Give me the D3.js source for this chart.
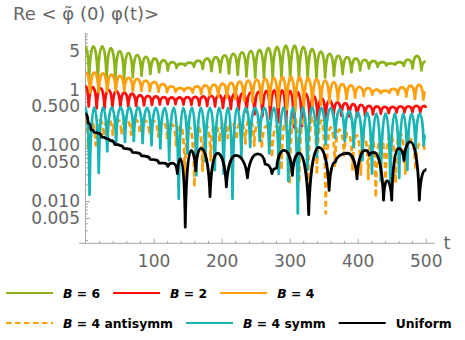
<!DOCTYPE html>
<html>
<head>
<meta charset="utf-8">
<script src="https://cdn.jsdelivr.net/npm/d3@7"></script>
<style>
body { margin: 0; background: #fff; }
svg { display: block; }
.axis text { font-family: "DejaVu Sans"; font-size: 17px; fill: #666; }
.axis line, .axis path { stroke: #a6a6a6; }
.legend text { font-family: "DejaVu Sans"; font-weight: bold; font-size: 12.4px; fill: #000; }
</style>
</head>
<body>
<svg width="465" height="340"></svg>
<script>
// series: [t, value] at the turning points
const b6 = [[0,5.8],[5.3,1.45],[11.7,5.95],[18.1,1.45],[24.6,5.95],[31,1.5],[37.4,5.5],[43.8,1.5],[50.3,4.9],[56.7,1.55],
  [63.1,4.5],[69.5,1.65],[76,4.15],[82.4,1.78],[88.8,3.85],[95.2,1.9],[101.7,3.6],[108.1,2.05],[114.5,3.35],[120.9,2.2],
  [127.4,3.1],[133.8,2.45],[140.2,2.9],[146.6,2.7],[153.1,3.05],[159.5,2.55],[165.9,3.3],[172.3,2.35],[178.8,3.6],[185.2,2.15],
  [191.6,3.8],[198,2.05],[204.5,4.1],[210.9,1.95],[217.3,4.35],[223.7,1.85],[230.2,4.65],[236.6,1.72],[243,4.9],[249.4,1.65],
  [255.9,5.15],[262.3,1.6],[268.7,5.5],[275.1,1.55],[281.6,5.8],[288,1.5],[294.4,6.1],[300.8,1.48],[307.3,6.1],[313.7,1.48],
  [320.1,5.8],[326.5,1.5],[333,5.35],[339.4,1.55],[345.8,4.8],[352.2,1.65],[358.7,4.35],[365.1,1.78],[371.5,4],[377.9,1.9],
  [384.4,3.8],[390.8,2.05],[397.2,3.6],[403.6,2.2],[410.1,3.4],[416.5,2.4],[422.9,3.25],[429.3,2.55],[435.8,3.1],[442.2,2.7],
  [448.6,2.95],[455,2.8],[461.5,3.1],[467.9,2.65],[474.3,3.45],[480.7,2.4],[487.2,4],[493.6,2.2],[500,3.2]];

const b2 = [[0,1.15],[4.8,0.5],[10.6,1.1],[16.4,0.46],[22.2,1.05],[28,0.46],[33.8,0.99],[39.6,0.47],[45.4,0.94],[51.2,0.48],
  [57,0.88],[62.8,0.5],[68.6,0.84],[74.4,0.51],[80.2,0.79],[86,0.52],[91.8,0.77],[97.6,0.53],[103.4,0.75],[109.2,0.54],
  [115,0.73],[120.8,0.55],[126.6,0.72],[132.4,0.55],[138.2,0.72],[144,0.54],[149.8,0.73],[155.6,0.53],[161.4,0.74],[167.2,0.52],
  [173,0.75],[178.8,0.51],[184.6,0.77],[190.4,0.5],[196.2,0.79],[202,0.47],[207.8,0.81],[213.6,0.45],[219.4,0.84],[225.2,0.43],
  [231,0.86],[236.8,0.4],[242.6,0.88],[248.4,0.36],[254.2,0.91],[260,0.33],[265.8,0.95],[271.6,0.3],[277.4,0.97],[283.2,0.26],
  [289,0.97],[294.8,0.23],[300.6,0.95],[306.4,0.21],[312.2,0.9],[318,0.22],[323.8,0.84],[329.6,0.25],[335.4,0.77],[341.2,0.28],
  [347,0.7],[352.8,0.31],[358.6,0.64],[364.4,0.33],[370.2,0.59],[376,0.34],[381.8,0.57],[387.6,0.33],[393.4,0.55],[399.2,0.33],
  [405,0.53],[410.8,0.34],[416.6,0.51],[422.4,0.36],[428.2,0.5],[434,0.37],[439.8,0.49],[445.6,0.38],[451.4,0.49],[457.2,0.39],
  [463,0.5],[468.8,0.39],[474.6,0.5],[480.4,0.39],[486.2,0.51],[492,0.39],[497.8,0.51],[500,0.47]];

const b4 = [[0.5,2],[6.8,0.88],[13.1,2],[19.3,0.9],[25.6,1.95],[31.9,0.92],[38.2,1.85],[44.5,0.93],[50.7,1.75],[57,0.95],
  [63.3,1.62],[69.6,0.95],[75.9,1.55],[82.2,0.95],[88.4,1.45],[94.7,0.94],[101,1.37],[107.3,0.92],[113.5,1.25],[119.8,0.9],
  [126.1,1.14],[132.4,0.91],[138.7,1.06],[145,0.95],[151.2,1.07],[157.5,0.88],[163.8,1.14],[170.1,0.84],[176.3,1.19],[182.6,0.79],
  [188.9,1.23],[195.2,0.75],[201.5,1.28],[207.8,0.72],[214,1.32],[220.3,0.68],[226.6,1.39],[232.9,0.64],[239.1,1.45],[245.4,0.6],
  [251.7,1.51],[258,0.57],[264.3,1.57],[270.6,0.53],[276.8,1.62],[283.1,0.48],[289.4,1.68],[295.7,0.44],[301.9,1.7],[308.2,0.41],
  [314.5,1.68],[320.8,0.42],[327.1,1.62],[333.4,0.46],[339.6,1.55],[345.9,0.53],[352.2,1.45],[358.5,0.58],[364.7,1.35],[371,0.64],
  [377.3,1.25],[383.6,0.68],[389.9,1.19],[396.2,0.72],[402.4,1.12],[408.7,0.77],[415,1.06],[421.3,0.81],[427.5,1],[433.8,0.86],
  [440.1,0.96],[446.4,0.88],[452.7,1.03],[459,0.81],[465.2,1.1],[471.5,0.75],[477.8,1.17],[484.1,0.68],[490.3,1.21],[496.6,0.66],
  [500,0.9]];

const b4anti = [[0,0.3],[4,0.09],[9,0.26],[15,0.1],[21,0.28],[27,0.145],[34,0.29],[40,0.155],[47,0.29],[53,0.155],
  [60,0.29],[67,0.155],[73,0.29],[80,0.165],[87,0.28],[94,0.155],[100,0.27],[107,0.145],[114,0.26],[120,0.135],
  [127,0.24],[133,0.1],[140,0.22],[146,0.027],[153,0.21],[160,0.018],[166,0.21],[172,0.035],[178,0.22],[184,0.054],
  [190,0.23],[197,0.115],[203,0.24],[209,0.135],[215,0.25],[222,0.125],[228,0.26],[235,0.108],[241,0.29],[248,0.098],
  [254,0.26],[259,0.09],[266,0.22],[274,0.06],[281,0.22],[288,0.036],[294,0.27],[300,0.02],[307,0.32],[314,0.021],
  [321,0.34],[327,0.019],[334,0.32],[340,0.03],[347,0.28],[353,0.006],[360,0.21],[366.5,0.043],[373,0.19],[380,0.066],
  [386,0.165],[392.5,0.035],[398.5,0.15],[404.5,0.03],[410,0.14],[415.5,0.025],[421,0.14],[426.5,0.0115],[434,0.14],[441,0.02],
  [448,0.16],[455.5,0.021],[462,0.165],[470,0.031],[477,0.13],[485,0.036],[492,0.11],[499.5,0.072]];

const b4symm = [[0,0.48],[6,0.013],[12.7,0.48],[19.5,0.032],[25.7,0.48],[32,0.078],[38.5,0.48],[45,0.105],[51.5,0.48],[58,0.115],
  [64.5,0.48],[71,0.12],[77.5,0.48],[84,0.11],[90.5,0.47],[97,0.1],[103.5,0.47],[110,0.088],[116.5,0.47],[123,0.054],
  [130,0.47],[137,0.011],[143.5,0.47],[150,0.072],[156.5,0.47],[163,0.029],[169.5,0.47],[176,0.052],[183,0.47],[190,0.036],
  [196.5,0.47],[203,0.031],[209.5,0.47],[216,0.011],[222.5,0.47],[229,0.062],[235.5,0.47],[242,0.093],[249,0.47],[256,0.12],
  [263,0.47],[270,0.072],[277,0.47],[284,0.031],[291,0.48],[298,0.023],[305,0.48],[312,0.006],[319,0.48],[326,0.036],
  [333,0.48],[340,0.062],[346.5,0.47],[353,0.105],[360,0.46],[367,0.135],[374,0.44],[381,0.12],[387.5,0.41],[394,0.093],
  [400.5,0.39],[407,0.054],[414,0.38],[421,0.031],[427.5,0.37],[434,0.023],[441,0.37],[448,0.02],[454.5,0.37],[461,0.026],
  [467,0.37],[473,0.036],[479,0.37],[485,0.078],[491,0.37],[497,0.1],[500,0.15]];

const uniform = [[0,0.37],[4,0.25],[8,0.19],[13,0.17],[18,0.165],[24,0.14],[30,0.132],[36,0.122],[43,0.104],[50,0.1],
  [56,0.088],[62,0.086],[69,0.075],[76,0.073],[82,0.065],[89,0.063],[95,0.056],[102,0.055],[108,0.048],[115,0.048],
  [121,0.042],[128,0.048],[135,0.031],[140,0.057],[146.6,0.0034],[155,0.08],[162,0.035],[170,0.088],[183,0.012],[194,0.072],
  [207,0.018],[221,0.066],[238,0.026],[253,0.07],[264,0.046],[274,0.031],[281,0.039],[292,0.081],[304,0.029],[314,0.072],
  [328,0.0057],[343,0.092],[358,0.0155],[367,0.05],[385,0.072],[399,0.025],[411,0.081],[417,0.067],[424,0.075],[438,0.0104],
  [443,0.023],[450,0.0104],[460,0.088],[468,0.053],[477.5,0.115],[490.6,0.0104],[499.5,0.036],[501,0.037]];

const seriesNames = ['B = 6', 'B = 2', 'B = 4', 'B = 4 antisymm', 'B = 4 symm', 'Uniform'];
const seriesData = [b6, b2, b4, b4anti, b4symm, uniform];
const colors = ['#8db31a', '#ff0d0d', '#ffa00f', '#ffa00f', '#19b4b4', '#000000'];
const dashes = [null, null, null, '6,3.5', null, null];

const xTicks = [100, 200, 300, 400, 500];
const yTicks = [0.005, 0.01, 0.05, 0.1, 0.5, 1, 5];
const yTickLabels = ['0.005', '0.010', '0.050', '0.100', '0.500', '1', '5'];

const svg = d3.select('svg');

const x = d3.scaleLinear().domain([0, 513.6]).range([85.5, 435]);
const y = d3.scaleLog().domain([0.00175, 10.2]).range([243.3, 33.3]);

// curve with round tops and pointed dips
function Cusp(context) { this._context = context; }
Cusp.prototype = {
  areaStart() {}, areaEnd() {},
  lineStart() { this._point = 0; },
  lineEnd() {},
  point(px, py) {
    if (!this._point) {
      this._point = 1;
      this._context.moveTo(px, py);
    } else {
      const x0 = this._x, y0 = this._y, dx = px - x0, dy = py - y0;
      if (dy > 0) this._context.bezierCurveTo(x0 + dx * 0.55, y0, px - dx * 0.1, y0 + dy * 0.45, px, py);
      else this._context.bezierCurveTo(x0 + dx * 0.1, y0 + dy * 0.55, px - dx * 0.55, py, px, py);
    }
    this._x = px; this._y = py;
  }
};
const curveCusp = ctx => new Cusp(ctx);

// axes
const minorX = d3.range(20, 513, 20).filter(v => v % 100 !== 0);
svg.append('g').attr('class', 'axis')
  .attr('transform', 'translate(0,243.3)')
  .call(d3.axisBottom(x).tickValues(minorX).tickSize(-2.5).tickSizeOuter(0).tickFormat(''))
  .call(g => g.select('.domain').remove());

svg.append('g').attr('class', 'axis')
  .attr('transform', 'translate(0,243.3)')
  .call(d3.axisBottom(x).tickValues(xTicks).tickSize(-4.5).tickSizeOuter(0).tickPadding(11.5))
  .call(g => g.select('.domain').remove());

const minorY = [];
[0.001, 0.01, 0.1, 1].forEach(d => [2, 3, 4, 6, 7, 8, 9].forEach(m => {
  const v = d * m;
  if (v > 0.00175 && v < 10.2) minorY.push(v);
}));
minorY.push(10);

svg.append('g').attr('class', 'axis')
  .attr('transform', 'translate(85.5,0)')
  .call(d3.axisLeft(y).tickValues(minorY).tickSize(-2.5).tickSizeOuter(0).tickFormat(''))
  .call(g => g.select('.domain').remove());

svg.append('g').attr('class', 'axis')
  .attr('transform', 'translate(85.5,0)')
  .call(d3.axisLeft(y).tickValues(yTicks).tickSize(-4.5).tickSizeOuter(0).tickPadding(5.5)
    .tickFormat((d, i) => yTickLabels[i]))
  .call(g => g.select('.domain').remove());

svg.append('line').attr('x1', 79).attr('x2', 435).attr('y1', 243.3).attr('y2', 243.3)
  .attr('stroke', '#a6a6a6');
svg.append('line').attr('x1', 85.5).attr('x2', 85.5).attr('y1', 33).attr('y2', 243.3)
  .attr('stroke', '#a6a6a6');

svg.append('text')
  .attr('x', 447).attr('y', 249)
  .attr('text-anchor', 'middle')
  .style('font-family', 'DejaVu Sans').style('font-size', '18px').style('fill', '#666')
  .text('t');

svg.append('text')
  .attr('x', 13).attr('y', 20)
  .style('font-family', 'DejaVu Sans').style('font-size', '18px').style('fill', '#666')
  .text('Re < \u03C6\u0303 (0) \u03C6(t)>');

// lines
const line = d3.line()
  .x(d => x(d[0]))
  .y(d => y(d[1]))
  .curve(curveCusp);

svg.append('g')
  .selectAll('path')
  .data(seriesData)
  .enter()
  .append('path')
  .attr('d', d => line(d))
  .attr('fill', 'none')
  .attr('stroke', (d, i) => colors[i])
  .attr('stroke-width', 2.8)
  .attr('stroke-linejoin', 'round')
  .attr('stroke-dasharray', (d, i) => dashes[i]);

// legend, two rows
const legendRows = [[0, 1, 2], [3, 4, 5]];
const legendY = [293, 323];
const legend = svg.append('g').attr('class', 'legend');

legendRows.forEach((row, r) => {
  let cx = 6;
  row.forEach(i => {
    legend.append('line')
      .attr('x1', cx).attr('x2', cx + 47)
      .attr('y1', legendY[r]).attr('y2', legendY[r])
      .attr('stroke', colors[i])
      .attr('stroke-width', 2)
      .attr('stroke-dasharray', dashes[i] ? '5.5,3.5' : null);
    const t = legend.append('text')
      .attr('x', cx + 57)
      .attr('y', legendY[r] + 4.5);
    const name = seriesNames[i];
    if (name.startsWith('B')) {
      t.append('tspan').style('font-style', 'italic').text('B');
      t.append('tspan').text(name.slice(1));
    } else {
      t.text(name);
    }
    cx += 57 + t.node().getComputedTextLength() + 13;
  });
});
</script>
</body>
</html>
